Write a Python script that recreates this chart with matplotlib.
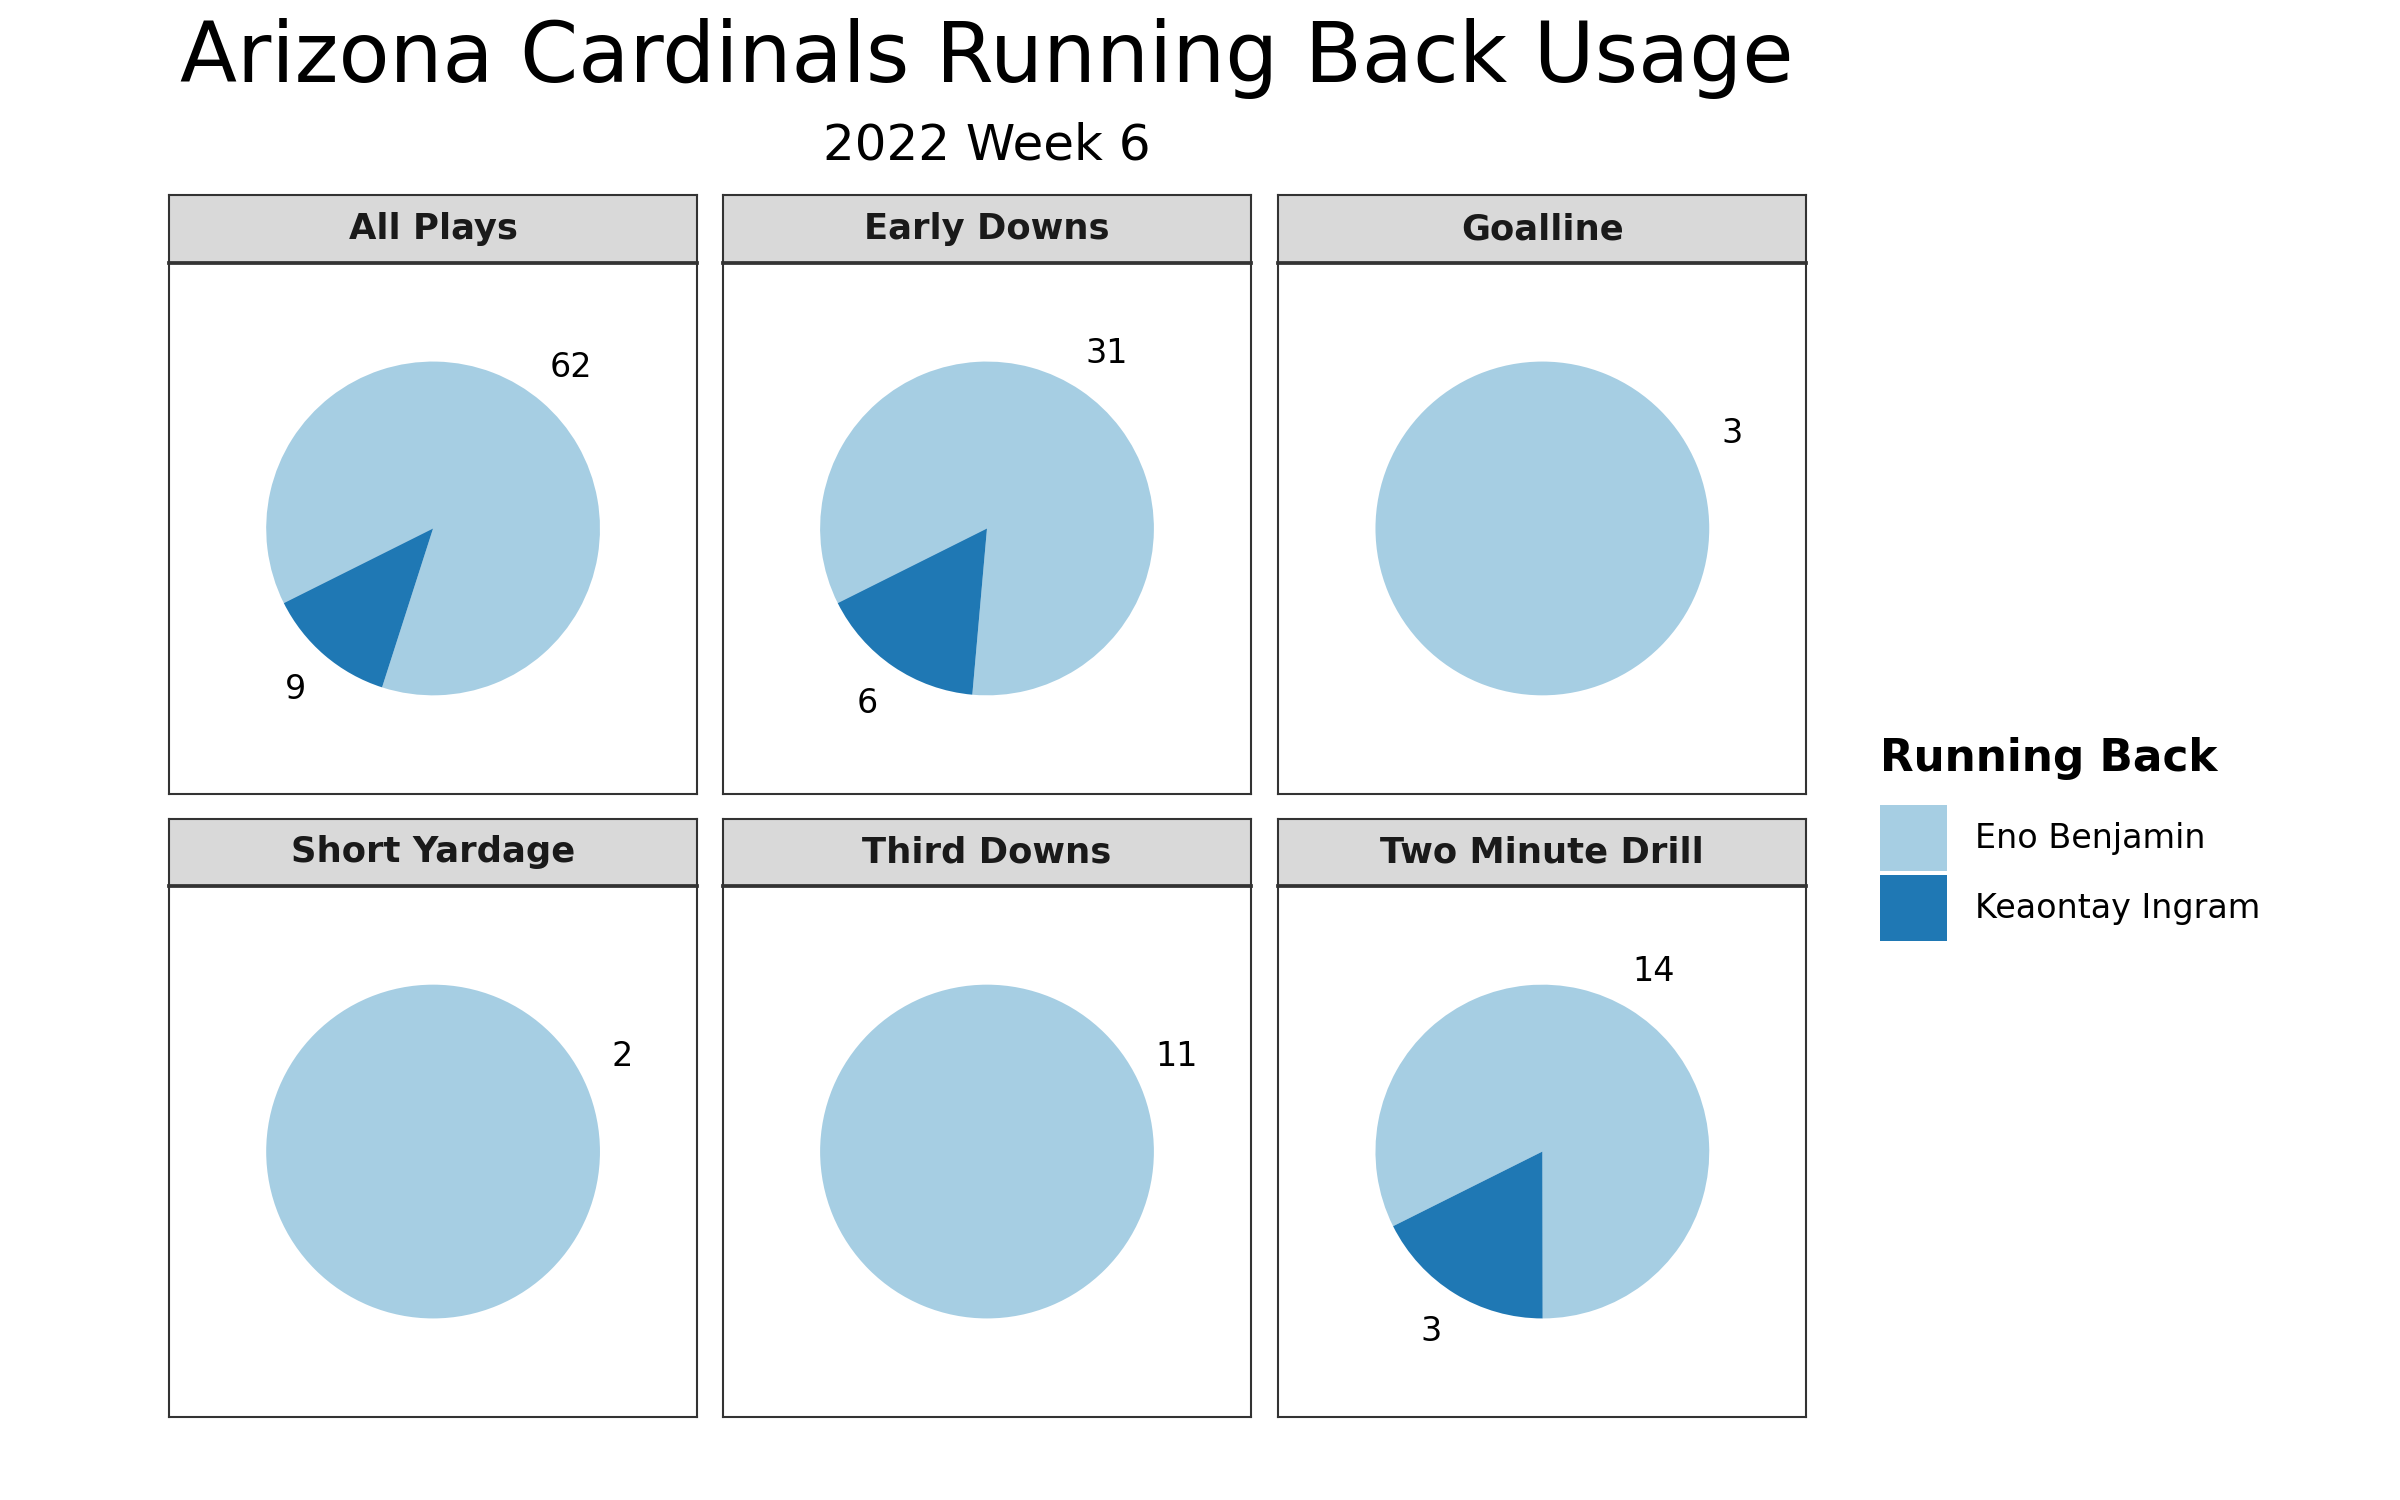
import numpy as np
import matplotlib
matplotlib.use("Agg")
import matplotlib.pyplot as plt
from matplotlib.patches import Patch

# data
situations = ["All Plays", "Early Downs", "Goalline",
              "Short Yardage", "Third Downs", "Two Minute Drill"]
players = ["Eno Benjamin", "Keaontay Ingram"]
eno = [62, 31, 3, 2, 11, 14]
ingram = [9, 6, 0, 0, 0, 3]
colors = ["#a6cee3", "#1f78b4"]

fig = plt.figure(figsize=(16, 10), dpi=150)

lefts = [0.0705, 0.3013, 0.5327]
w = 0.2199
panel_b = [0.4708, 0.0554]
panel_h = 0.3538
strip_h = 0.0451

for i, name in enumerate(situations):
    r, c = divmod(i, 3)
    ax = fig.add_axes([lefts[c], panel_b[r], w, panel_h])
    sax = fig.add_axes([lefts[c], panel_b[r] + panel_h, w, strip_h])

    vals = [eno[i], ingram[i]]
    wedges, _ = ax.pie(vals, colors=colors, startangle=206.57, counterclock=False,
                       radius=1, frame=True, wedgeprops=dict(linewidth=0))
    # value labels at the middle of each slice
    for wd, v in zip(wedges, vals):
        if v == 0:
            continue
        mid = np.deg2rad((wd.theta1 + wd.theta2) / 2)
        ax.text(1.27 * np.cos(mid), 1.27 * np.sin(mid), str(v),
                ha="center", va="center", fontsize=16)
    ax.set_aspect("equal", adjustable="datalim")
    ax.set_xlim(-1.59, 1.59)
    ax.set_ylim(-1.59, 1.59)
    ax.set_xticks([])
    ax.set_yticks([])
    for sp in ax.spines.values():
        sp.set_color("#333333")
        sp.set_linewidth(1.0)

    # facet strip
    sax.set_facecolor("#d9d9d9")
    sax.set_xticks([])
    sax.set_yticks([])
    for sp in sax.spines.values():
        sp.set_color("#333333")
        sp.set_linewidth(1.0)
    sax.spines["bottom"].set_linewidth(1.8)
    sax.text(0.5, 0.5, name, ha="center", va="center", fontsize=17,
             fontweight="bold", color="#1a1a1a", transform=sax.transAxes)

fig.text(0.411, 0.961, "Arizona Cardinals Running Back Usage",
         ha="center", va="center", fontsize=40)
fig.text(0.411, 0.903, "2022 Week 6", ha="center", va="center", fontsize=24)

# legend
fig.text(0.7833, 0.4944, "Running Back", ha="left", va="center",
         fontsize=21, fontweight="bold")
handles = [Patch(facecolor=colors[k], edgecolor="none", label=players[k])
           for k in range(2)]
fig.legend(handles=handles, loc="upper left", bbox_to_anchor=(0.7833, 0.4636),
           frameon=False, fontsize=16, borderpad=0, borderaxespad=0,
           handlelength=2.0, handleheight=2.7, labelspacing=0.1,
           handletextpad=0.85)

fig.savefig("out.png", dpi=150)
